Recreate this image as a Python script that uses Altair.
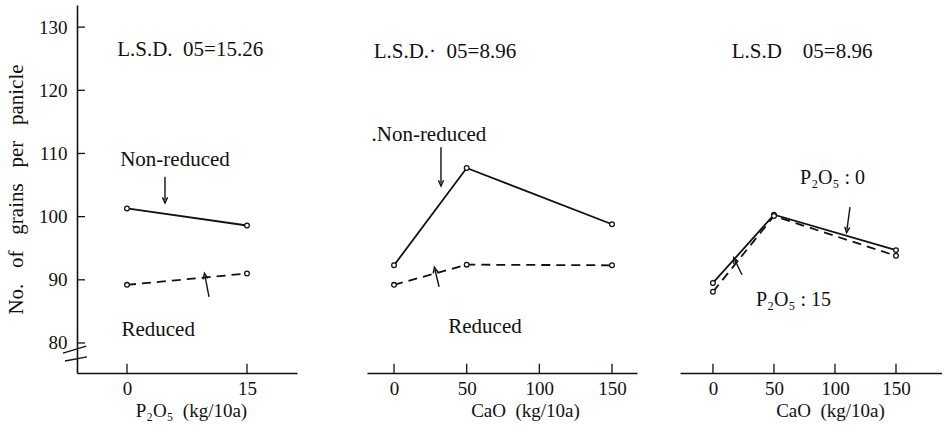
import altair as alt
import pandas as pd

FONT = "Liberation Serif"
INK = "#111111"
SP = "\u00a0"

# Shared y scale (grains per panicle); the axis starts just below 80 with a break mark
Y_MIN, Y_MAX = 75.25, 133.5
y_ticks = [80, 90, 100, 110, 120, 130]
y_title = (SP * 3).join(["No.", "of", "grains", "per", "panicle"])

# Panel 1: P2O5 rate
p2o5_rates = [0, 15]
p2o5_nonreduced = [101.3, 98.6]
p2o5_reduced = [89.2, 91.0]

# Panel 2: CaO rate
cao_rates = [0, 50, 150]
cao_nonreduced = [92.3, 107.7, 98.8]
cao_reduced = [89.2, 92.4, 92.3]

# Panel 3: CaO rate at two P2O5 levels
cao_p0 = [89.5, 100.3, 94.7]
cao_p15 = [88.1, 100.1, 93.8]

lsd_labels = ["L.S.D." + SP * 2 + "05=15.26",
              "L.S.D.·" + SP * 2 + "05=8.96",
              "L.S.D" + SP * 4 + "05=8.96"]
x_titles = ["P₂O₅" + SP * 2 + "(kg/10a)", "CaO" + SP * 2 + "(kg/10a)",
            "CaO" + SP * 2 + "(kg/10a)"]
x_tick_values = [[0, 15], [0, 50, 100, 150], [0, 50, 100, 150]]

# Panel geometry: x domains and widths
x_domains = [[-6.25, 21.25], [-18.6, 167.2], [-27.0, 187.7]]
widths = [220, 270, 262]
title_x = [114, 158, 150]
HEIGHT = 368

# Text annotations per panel: (x, y, text, size)
notes = [
    [(7.9, 126.4, lsd_labels[0], 21),
     (6.0, 109.0, "Non-reduced", 21),
     (3.9, 82.1, "Reduced", 21)],
    [(35.0, 126.0, lsd_labels[1], 21),
     (24.0, 112.9, ".Non-reduced", 21),
     (62.6, 82.5, "Reduced", 21)],
    [(73.0, 126.0, lsd_labels[2], 21),
     (98.0, 106.1, "P₂O₅" + SP + ":" + SP + "0", 20),
     (66.0, 86.8, "P₂O₅" + SP + ":" + SP + "15", 20)],
]

# Pointer arrows per panel: (x_tail, y_tail, x_tip, y_tip, head angle)
arrows = [
    [(4.75, 106.3, 4.75, 102.6, 180),
     (10.25, 87.3, 9.75, 90.6, 349)],
    [(32.3, 111.0, 32.3, 105.3, 180),
     (31.0, 88.9, 28.2, 91.55, 347)],
    [(112.3, 101.5, 109.8, 97.9, 187),
     (23.8, 90.8, 18.0, 93.1, 335)],
]

# Open V-shaped arrow head, pointing up before rotation
HEAD = "M-0.8,0.9L0,-0.9L0.8,0.9"


def y_enc(show_axis):
    if show_axis:
        axis = alt.Axis(values=y_ticks, ticks=False, grid=False, domainColor=INK,
                        domainWidth=1.6, labelFont=FONT, labelFontSize=19,
                        labelColor=INK, labelPadding=10, title=y_title,
                        titleFont=FONT, titleFontSize=21, titleFontWeight="normal",
                        titleColor=INK, titlePadding=12)
    else:
        axis = None
    return alt.Y("y:Q", scale=alt.Scale(domain=[Y_MIN, Y_MAX], nice=False, zero=False),
                 axis=axis)


def x_enc(i):
    axis = alt.Axis(values=x_tick_values[i], ticks=False, grid=False, domainColor=INK,
                    domainWidth=1.6, labelFont=FONT, labelFontSize=19, labelColor=INK,
                    labelPadding=6, labelFlush=False, title=x_titles[i], titleFont=FONT,
                    titleFontSize=19, titleFontWeight="normal", titleColor=INK,
                    titlePadding=3, titleX=title_x[i])
    return alt.X("x:Q", scale=alt.Scale(domain=x_domains[i], nice=False, zero=False),
                 axis=axis)


def series(i, xs, ys, show_axis, dashed):
    df = pd.DataFrame({"x": xs, "y": ys})
    base = alt.Chart(df).encode(x=x_enc(i), y=y_enc(show_axis))
    line_kw = dict(color=INK, strokeWidth=1.8)
    if dashed:
        line_kw["strokeDash"] = [9, 6]
    line = base.mark_line(**line_kw)
    pts = base.mark_point(shape="circle", filled=True, fill="white", stroke=INK,
                          strokeWidth=1.3, size=22, opacity=1)
    return [line, pts]


def x_tick_marks(i, show_axis):
    n = len(x_tick_values[i])
    df = pd.DataFrame({"x": x_tick_values[i], "y": [Y_MIN] * n,
                       "y2": [Y_MIN + 1.45] * n})
    return alt.Chart(df).mark_rule(color=INK, strokeWidth=1.3).encode(
        x=x_enc(i), y=y_enc(show_axis), y2="y2:Q")


def text_layers(i, show_axis):
    layers = []
    for (x, y, t, size) in notes[i]:
        df = pd.DataFrame({"x": [x], "y": [y], "t": [t]})
        layers.append(alt.Chart(df).mark_text(
            font=FONT, fontSize=size, color=INK, align="center", baseline="middle"
        ).encode(x=x_enc(i), y=y_enc(show_axis), text="t:N"))
    return layers


def arrow_layers(i, show_axis):
    rows = arrows[i]
    shafts = pd.DataFrame({"x": [r[0] for r in rows], "x2": [r[2] for r in rows],
                           "y": [r[1] for r in rows], "y2": [r[3] for r in rows]})
    heads = pd.DataFrame({"x": [r[2] for r in rows], "y": [r[3] for r in rows],
                          "a": [r[4] for r in rows]})
    shaft = alt.Chart(shafts).mark_rule(color=INK, strokeWidth=1.4).encode(
        x=x_enc(i), x2="x2:Q", y=y_enc(show_axis), y2="y2:Q")
    head = alt.Chart(heads).mark_point(
        shape=HEAD, filled=False, stroke=INK, strokeWidth=1.4, size=40, opacity=1
    ).encode(x=x_enc(i), y=y_enc(show_axis),
             angle=alt.Angle("a:Q", scale=None))
    return [shaft, head]


def panel(i, lines, show_axis):
    layers = []
    for xs, ys, dashed in lines:
        layers += series(i, xs, ys, show_axis, dashed)
    layers.append(x_tick_marks(i, show_axis))
    if show_axis:
        lo, hi = x_domains[i][0], x_domains[i][0] + 1.0
        yt = pd.DataFrame({"x": [lo] * len(y_ticks), "x2": [hi] * len(y_ticks),
                           "y": y_ticks})
        layers.append(alt.Chart(yt).mark_rule(color=INK, strokeWidth=1.3).encode(
            x=x_enc(i), x2="x2:Q", y=y_enc(show_axis)))
        # axis break mark
        brk = pd.DataFrame({"x": [-8.0, -7.75], "x2": [-5.1, -5.0],
                            "y": [78.4, 77.15], "y2": [79.5, 77.8]})
        layers.append(alt.Chart(brk).mark_rule(color=INK, strokeWidth=1.3).encode(
            x=x_enc(i), x2="x2:Q", y=y_enc(show_axis), y2="y2:Q"))
    layers += arrow_layers(i, show_axis)
    layers += text_layers(i, show_axis)
    return alt.layer(*layers).properties(width=widths[i], height=HEIGHT)


p1 = panel(0, [(p2o5_rates, p2o5_nonreduced, False),
               (p2o5_rates, p2o5_reduced, True)], True)
p2 = panel(1, [(cao_rates, cao_nonreduced, False),
               (cao_rates, cao_reduced, True)], False)
p3 = panel(2, [(cao_rates, cao_p0, False),
               (cao_rates, cao_p15, True)], False)

chart = alt.hconcat(alt.hconcat(p1, p2, spacing=70), p3, spacing=43).properties(
    padding={"left": 5, "top": 5, "right": 0, "bottom": 2},
    background="white",
).configure_view(stroke=None)

chart.save("out.html", embed_options={"renderer": "svg", "actions": False})
